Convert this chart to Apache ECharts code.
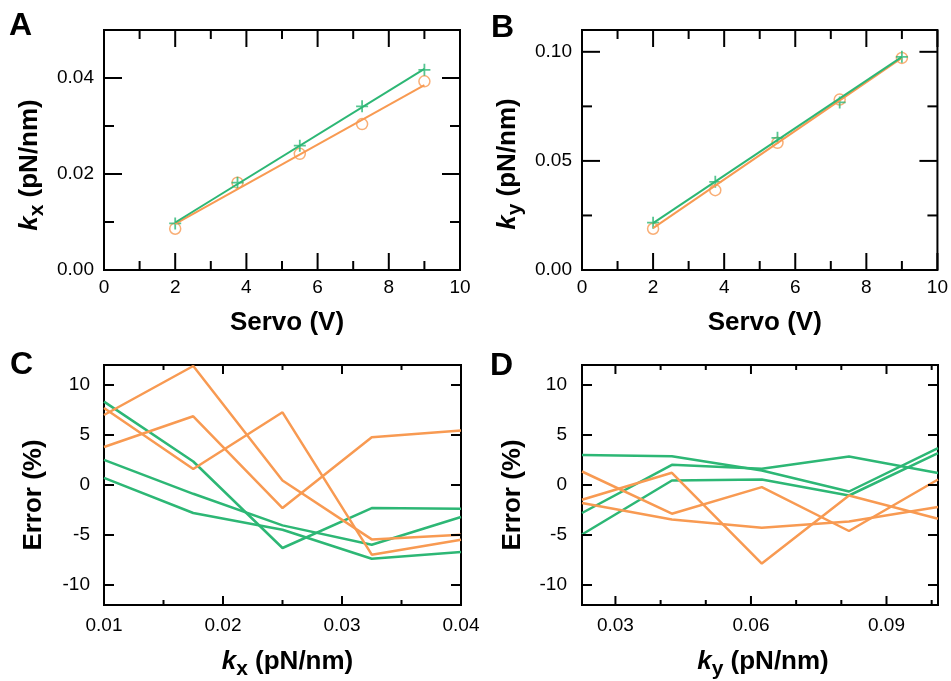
<!DOCTYPE html>
<html>
<head>
<meta charset="utf-8">
<script src="https://cdn.jsdelivr.net/npm/echarts@6/dist/echarts.min.js"></script>
<style>
  html, body { margin: 0; padding: 0; background: #fff; }
  #chart { width: 951px; height: 681px; }
</style>
</head>
<body>
<div id="chart"></div>
<script>
// A / B: stiffness vs servo voltage (plus = green, circle = orange)
const servo = [2, 3.75, 5.5, 7.25, 9];
const fitServo = [2, 9];
const kxPlus = [0.0097, 0.0182, 0.0259, 0.0341, 0.0417];
const kxCircle = [0.0086, 0.0182, 0.0242, 0.0304, 0.0393];
const kxPlusFit = [0.0099, 0.0419];
const kxCircleFit = [0.0096, 0.0385];
const kyPlus = [0.0217, 0.0404, 0.0606, 0.0768, 0.0977];
const kyCircle = [0.0189, 0.0366, 0.0583, 0.0781, 0.0972];
const kyPlusFit = [0.0215, 0.0977];
const kyCircleFit = [0.0192, 0.0972];

// C / D: error (%) vs stiffness
const kxErrX = [0.01, 0.0175, 0.025, 0.0325, 0.04];
const kxErrGreen = [
  [8.34, 2.35, -6.3, -2.31, -2.37],
  [2.51, -0.88, -4.04, -5.97, -3.2],
  [0.72, -2.8, -4.47, -7.37, -6.7]
];
const kxErrOrange = [
  [7.0, 11.9, 0.45, -5.44, -4.97],
  [7.7, 1.6, 7.27, -6.97, -5.47],
  [3.8, 6.87, -2.31, 4.78, 5.44]
];
const kyErrX = [0.0226, 0.0425, 0.0624, 0.0817, 0.1014];
const kyErrGreen = [
  [3.0, 2.88, 1.45, -0.65, 3.68],
  [-2.8, 2.02, 1.62, 2.85, 1.19],
  [-4.95, 0.45, 0.55, -1.05, 3.18]
];
const kyErrOrange = [
  [1.35, -2.87, -0.21, -4.6, 0.55],
  [-1.48, 1.22, -7.86, -1.05, -3.37],
  [-1.81, -3.44, -4.27, -3.64, -2.2]
];

// tick positions
const servoMajor = [0, 2, 4, 6, 8, 10];
const servoMinor = [1, 3, 5, 7, 9];
const kxMajor = [0, 0.02, 0.04];
const kxMinor = [0.01, 0.03];
const kyMajor = [0, 0.05, 0.1];
const kyMinor = [0.025, 0.075];
const errMajor = [-10, -5, 0, 5, 10];
const kxErrMajor = [0.01, 0.02, 0.03, 0.04];
const kxErrMinor = [0.015, 0.025, 0.035];
const kyErrMajor = [0.03, 0.06, 0.09];
const kyErrMinor = [0.04, 0.05, 0.07, 0.08, 0.1];

const FONT = '"Liberation Sans", Arial, Helvetica, sans-serif';
const GREEN = '#2db775';
const ORANGE = '#f89a52';

function richName() {
  return {
    i: { fontFamily: FONT, fontWeight: 'bold', fontStyle: 'italic', fontSize: 26, lineHeight: 36, color: '#000' },
    s: { fontFamily: FONT, fontWeight: 'bold', fontSize: 21, lineHeight: 21, verticalAlign: 'bottom', color: '#000' },
    b: { fontFamily: FONT, fontWeight: 'bold', fontSize: 26, lineHeight: 36, color: '#000' }
  };
}

const f0 = v => String(Math.round(Number(v)));
const f2 = v => Number(v).toFixed(2);
const kxName = '{i|k}{s|x}{b| (pN/nm)}';
const kyName = '{i|k}{s|y}{b| (pN/nm)}';

const panels = [
  { letter: 'A', letterPos: [9, 10],
    grid: { left: 104, top: 30, width: 356, height: 240 },
    x: { min: 0, max: 10, major: servoMajor, minor: servoMinor, majorLen: 17, minorLen: 9,
         fmt: f0, margin: 8, name: '{b|Servo (V)}', nameGap: 35, namePad: [0, 0, 0, 10] },
    y: { min: 0, max: 0.05, major: kxMajor, minor: kxMinor, majorLen: 18, minorLen: 10,
         fmt: f2, margin: 10, name: kxName, nameGap: 56, namePad: [0, 30, 0, 0] } },
  { letter: 'B', letterPos: [491, 12],
    grid: { left: 582, top: 30, width: 356, height: 240 },
    x: { min: 0, max: 10, major: servoMajor, minor: servoMinor, majorLen: 17, minorLen: 9,
         fmt: f0, margin: 8, name: '{b|Servo (V)}', nameGap: 35, namePad: [0, 0, 0, 10] },
    y: { min: 0, max: 0.11, major: kyMajor, minor: kyMinor, majorLen: 18, minorLen: 10,
         fmt: f2, margin: 10, name: kyName, nameGap: 56, namePad: [0, 28, 0, 0] } },
  { letter: 'C', letterPos: [10, 349],
    grid: { left: 104, top: 365, width: 357, height: 241 },
    x: { min: 0.01, max: 0.04, major: kxErrMajor, minor: kxErrMinor, majorLen: 9, minorLen: 5,
         fmt: f2, margin: 11, name: kxName, nameGap: 39, namePad: [0, 0, 0, 10] },
    y: { min: -12, max: 12, major: errMajor, minor: [], majorLen: 10, minorLen: 5,
         fmt: f0, margin: 14, name: '{b|Error (%)}', nameGap: 52, namePad: [0, 20, 0, 0] } },
  { letter: 'D', letterPos: [490, 350],
    grid: { left: 582, top: 365, width: 356, height: 241 },
    x: { min: 0.0226, max: 0.1014, major: kyErrMajor, minor: kyErrMinor, majorLen: 9, minorLen: 5,
         fmt: f2, margin: 11, name: kyName, nameGap: 39, namePad: [0, 0, 0, 6] },
    y: { min: -12, max: 12, major: errMajor, minor: [], majorLen: 10, minorLen: 5,
         fmt: f0, margin: 15, name: '{b|Error (%)}', nameGap: 51, namePad: [0, 20, 0, 0] } }
];

// frame comes from the grid border; axes only carry labels and names
function mainAxis(g, side, s) {
  return {
    type: 'value', gridIndex: g, position: side, min: s.min, max: s.max,
    splitLine: { show: false },
    axisLine: { show: false, onZero: false },
    axisTick: { show: false },
    axisLabel: { show: true, customValues: s.major.slice(), formatter: s.fmt, margin: s.margin,
                 color: '#000', fontSize: 19, fontFamily: FONT },
    name: s.name, nameLocation: 'middle', nameGap: s.nameGap,
    nameRotate: side === 'left' ? 90 : 0,
    nameTextStyle: { color: '#000', padding: s.namePad.slice(), rich: richName() }
  };
}

// inside ticks on all four sides, placed through the axes' own scales
function tickSeries(g, p) {
  const rows = [];
  p.x.major.forEach(v => rows.push([v, 0, p.x.majorLen]));
  p.x.minor.forEach(v => rows.push([v, 0, p.x.minorLen]));
  p.y.major.forEach(v => rows.push([v, 1, p.y.majorLen]));
  p.y.minor.forEach(v => rows.push([v, 1, p.y.minorLen]));
  const seg = (x1, y1, x2, y2) => ({ type: 'line', shape: { x1: x1, y1: y1, x2: x2, y2: y2 },
    style: { stroke: '#000', lineWidth: 2 } });
  return {
    type: 'custom', xAxisIndex: g, yAxisIndex: g, silent: true, z: 5,
    data: rows,
    encode: { x: 0, y: 1 },
    renderItem: (params, api) => {
      const v = api.value(0), kind = api.value(1), len = api.value(2);
      if (kind === 0) {
        const b = api.coord([v, p.y.min]);
        const t = api.coord([v, p.y.max]);
        return { type: 'group', children: [seg(b[0], b[1], b[0], b[1] - len), seg(t[0], t[1], t[0], t[1] + len)] };
      }
      const l = api.coord([p.x.min, v]);
      const r = api.coord([p.x.max, v]);
      return { type: 'group', children: [seg(l[0], l[1], l[0] + len, l[1]), seg(r[0], r[1], r[0] - len, r[1])] };
    }
  };
}

const pts = (xs, ys) => xs.map((x, i) => [x, ys[i]]);

function fitLine(g, ys, color) {
  return { type: 'line', xAxisIndex: g, yAxisIndex: g, data: pts(fitServo, ys),
    showSymbol: false, silent: true, lineStyle: { color: color, width: 2 } };
}
function circles(g, ys) {
  return { type: 'scatter', xAxisIndex: g, yAxisIndex: g, data: pts(servo, ys),
    symbol: 'circle', symbolSize: 11,
    itemStyle: { color: 'rgba(0,0,0,0)', borderColor: ORANGE, borderWidth: 1.5 } };
}
function pluses(g, ys) {
  return { type: 'scatter', xAxisIndex: g, yAxisIndex: g, data: pts(servo, ys),
    symbol: 'path://M5,0L5,10M0,5L10,5', symbolSize: 12,
    itemStyle: { color: 'rgba(0,0,0,0)', borderColor: GREEN, borderWidth: 1.8 } };
}
function errLines(g, xs, rows, color) {
  return rows.map(r => ({ type: 'line', xAxisIndex: g, yAxisIndex: g, data: pts(xs, r),
    showSymbol: false, silent: true, lineStyle: { color: color, width: 2.5 } }));
}

const series = [
  fitLine(0, kxCircleFit, ORANGE), fitLine(0, kxPlusFit, GREEN),
  circles(0, kxCircle), pluses(0, kxPlus),
  fitLine(1, kyCircleFit, ORANGE), fitLine(1, kyPlusFit, GREEN),
  circles(1, kyCircle), pluses(1, kyPlus),
  ...errLines(2, kxErrX, kxErrGreen, GREEN), ...errLines(2, kxErrX, kxErrOrange, ORANGE),
  ...errLines(3, kyErrX, kyErrGreen, GREEN), ...errLines(3, kyErrX, kyErrOrange, ORANGE),
  ...panels.map((p, g) => tickSeries(g, p))
];

const chart = echarts.init(document.getElementById('chart'));
chart.setOption({
  animation: false,
  backgroundColor: '#fff',
  title: panels.map(p => ({ text: p.letter, left: p.letterPos[0], top: p.letterPos[1], padding: 0,
    textStyle: { fontFamily: FONT, fontWeight: 'bold', fontSize: 32, color: '#000' } })),
  grid: panels.map(p => Object.assign({ show: true, borderColor: '#000', borderWidth: 2,
    backgroundColor: 'transparent' }, p.grid)),
  xAxis: panels.map((p, g) => mainAxis(g, 'bottom', p.x)),
  yAxis: panels.map((p, g) => mainAxis(g, 'left', p.y)),
  series: series
});
</script>
</body>
</html>
